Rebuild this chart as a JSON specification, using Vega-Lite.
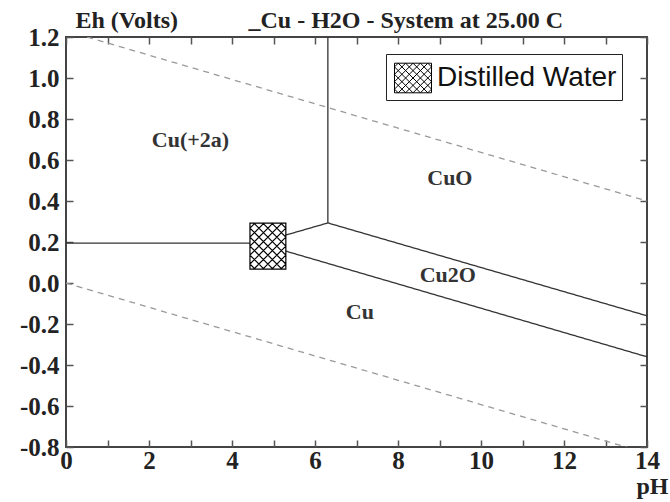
{
  "$schema": "https://vega.github.io/schema/vega-lite/v6.json",
  "width": 581,
  "height": 410,
  "autosize": {"type": "none"},
  "padding": {"left": 66, "top": 37, "right": 23, "bottom": 55},
  "background": "white",
  "config": {
    "view": {"stroke": "#444", "strokeWidth": 2},
    "axis": {
      "domain": false, "grid": false,
      "tickColor": "#555", "tickWidth": 1.5,
      "labelFont": "Liberation Serif", "labelFontWeight": "bold", "labelFontSize": 25, "labelColor": "#222",
      "titleFont": "Liberation Serif", "titleFontWeight": "bold", "titleFontSize": 24, "titleColor": "#222"
    }
  },
  "datasets": {
    "lines": [
      {"seg": "Cu2+/Cu", "kind": "boundary", "pH": 0, "Eh": 0.195},
      {"seg": "Cu2+/Cu", "kind": "boundary", "pH": 4.63, "Eh": 0.195},
      {"seg": "Cu2+/Cu2O", "kind": "boundary", "pH": 4.63, "Eh": 0.195},
      {"seg": "Cu2+/Cu2O", "kind": "boundary", "pH": 6.31, "Eh": 0.293},
      {"seg": "Cu2+/CuO", "kind": "boundary", "pH": 6.31, "Eh": 0.293},
      {"seg": "Cu2+/CuO", "kind": "boundary", "pH": 6.31, "Eh": 1.2},
      {"seg": "CuO/Cu2O", "kind": "boundary", "pH": 6.31, "Eh": 0.293},
      {"seg": "CuO/Cu2O", "kind": "boundary", "pH": 14, "Eh": -0.16},
      {"seg": "Cu2O/Cu", "kind": "boundary", "pH": 4.63, "Eh": 0.195},
      {"seg": "Cu2O/Cu", "kind": "boundary", "pH": 14, "Eh": -0.36},
      {"seg": "O2/H2O", "kind": "water", "pH": 0, "Eh": 1.23},
      {"seg": "O2/H2O", "kind": "water", "pH": 14, "Eh": 0.40},
      {"seg": "H2O/H2", "kind": "water", "pH": 0, "Eh": 0},
      {"seg": "H2O/H2", "kind": "water", "pH": 14, "Eh": -0.83}
    ],
    "regions": [
      {"label": "Cu(+2a)", "pH": 3.0, "Eh": 0.70},
      {"label": "CuO", "pH": 9.25, "Eh": 0.51},
      {"label": "Cu2O", "pH": 9.2, "Eh": 0.04},
      {"label": "Cu", "pH": 7.08, "Eh": -0.14}
    ],
    "sample": [
      {"name": "Distilled Water", "pH": 4.865, "Eh": 0.18}
    ]
  },
  "layer": [
    {
      "data": {"name": "lines"},
      "mark": {"type": "line", "clip": true, "strokeWidth": 1.3},
      "encoding": {
        "x": {"field": "pH", "type": "quantitative", "scale": {"domain": [0, 14], "nice": false},
          "axis": {"orient": "bottom", "values": [0,1,2,3,4,5,6,7,8,9,10,11,12,13,14],
            "labelExpr": "datum.value % 2 == 0 ? datum.label : ''",
            "labelFont": "Liberation Serif", "labelFontWeight": "bold", "labelFontSize": 25,
            "tickSize": -7, "labelPadding": 8, "labelFlush": false,
            "title": "pH", "titleX": 586, "titleY": 46, "titleAlign": "center", "titleBaseline": "alphabetic"}},
        "y": {"field": "Eh", "type": "quantitative", "scale": {"domain": [-0.8, 1.2], "nice": false},
          "axis": {"orient": "left", "values": [-0.8,-0.6,-0.4,-0.2,0,0.2,0.4,0.6,0.8,1.0,1.2],
            "labelExpr": "replace(format(datum.value, '.1f'), '\u2212', '-')",
            "labelFont": "Liberation Serif", "labelFontWeight": "bold", "labelFontSize": 25,
            "tickSize": -7, "labelPadding": 14, "labelFlush": false,
            "title": "Eh (Volts)", "titleAngle": 0, "titleX": 9, "titleY": -10, "titleAlign": "left", "titleBaseline": "alphabetic"}},
        "detail": {"field": "seg"},
        "stroke": {"field": "kind", "type": "nominal", "scale": {"domain": ["boundary", "water"], "range": ["#333", "#9a9a9a"]}, "legend": null},
        "strokeDash": {"field": "kind", "type": "nominal", "scale": {"domain": ["boundary", "water"], "range": [[1, 0], [6, 5]]}, "legend": null}
      }
    },
    {
      "data": {"name": "regions"},
      "mark": {"type": "text", "font": "Liberation Serif", "fontWeight": "bold", "fontSize": 22, "color": "#333"},
      "encoding": {
        "x": {"field": "pH", "type": "quantitative",
          "axis": {"orient": "top", "values": [0,1,2,3,4,5,6,7,8,9,10,11,12,13,14], "labels": false, "tickSize": -7,
            "title": "_Cu - H2O - System at 25.00 C", "titleAngle": 0, "titleX": 182, "titleY": -10, "titleAlign": "left", "titleBaseline": "alphabetic"}},
        "y": {"field": "Eh", "type": "quantitative",
          "axis": {"orient": "right", "values": [-0.8,-0.6,-0.4,-0.2,0,0.2,0.4,0.6,0.8,1.0,1.2], "labels": false, "tickSize": -7, "title": null}},
        "text": {"field": "label"}
      }
    },
    {
      "data": {"name": "sample"},
      "mark": {
        "type": "point", "filled": true, "opacity": 1, "stroke": "black", "strokeWidth": 1.2, "size": 2116,
        "shape": "M-0.78,-1H0.78V1H-0.78Z M-0.78,-0.78L-0.56,-1 M-0.78,-0.39L-0.17,-1 M-0.78,0L0.22,-1 M-0.78,0.39L0.61,-1 M-0.78,0.78L0.78,-0.78 M-0.61,1L0.78,-0.39 M-0.22,1L0.78,0 M0.17,1L0.78,0.39 M0.56,1L0.78,0.78 M-0.78,0.78L-0.56,1 M-0.78,0.39L-0.17,1 M-0.78,0L0.22,1 M-0.78,-0.39L0.61,1 M-0.78,-0.78L0.78,0.78 M-0.61,-1L0.78,0.39 M-0.22,-1L0.78,0 M0.17,-1L0.78,-0.39 M0.56,-1L0.78,-0.78"
      },
      "encoding": {
        "x": {"field": "pH", "type": "quantitative", "axis": null},
        "y": {"field": "Eh", "type": "quantitative", "axis": null},
        "fill": {"field": "name", "type": "nominal", "scale": {"range": ["white"]},
          "legend": {
            "title": null, "orient": "none", "legendX": 320, "legendY": 17,
            "symbolType": "M-1,-0.8H1V0.8H-1Z M-1,-0.6L-0.8,-0.8 M-1,-0.2L-0.4,-0.8 M-1,0.2L0,-0.8 M-1,0.6L0.4,-0.8 M-0.8,0.8L0.8,-0.8 M-0.4,0.8L1,-0.6 M0,0.8L1,-0.2 M0.4,0.8L1,0.2 M0.8,0.8L1,0.6 M-1,0.6L-0.8,0.8 M-1,0.2L-0.4,0.8 M-1,-0.2L0,0.8 M-1,-0.6L0.4,0.8 M-0.8,-0.8L0.8,0.8 M-0.4,-0.8L1,0.6 M0,-0.8L1,0.2 M0.4,-0.8L1,-0.2 M0.8,-0.8L1,-0.6",
            "symbolSize": 1369, "symbolStrokeColor": "black", "symbolStrokeWidth": 1, "symbolOpacity": 1, "symbolOffset": 3,
            "labelFont": "Liberation Sans", "labelFontSize": 28, "labelColor": "#111", "labelOffset": 5, "labelLimit": 400,
            "strokeColor": "#222", "fillColor": "white", "padding": 5, "cornerRadius": 0
          }}
      }
    }
  ],
  "resolve": {"axis": {"x": "independent", "y": "independent"}}
}
